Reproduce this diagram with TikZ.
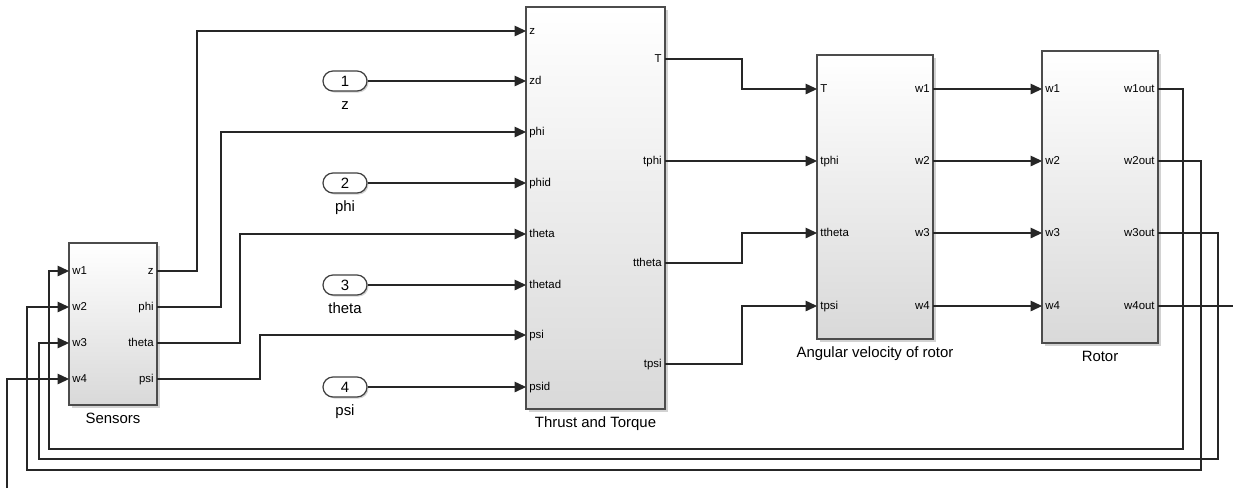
\documentclass[tikz,border=0pt]{standalone}
\usepackage{fontspec}
\setmainfont{Liberation Sans}
\usetikzlibrary{arrows.meta, positioning, calc, fit, shadows}

\begin{document}
\begin{tikzpicture}[
    x=0.02cm, y=-0.02cm,
    block/.style={draw=black!70, line width=0.7pt, inner sep=0pt,
      top color=white, bottom color=black!15,
      drop shadow={shadow xshift=0.05cm, shadow yshift=-0.05cm, fill=black!35, opacity=0.5}},
    inport/.style={draw=black!75, line width=0.7pt, fill=white, rounded corners=0.2cm,
      minimum width=0.88cm, minimum height=0.4cm, inner sep=0pt,
      font=\fontsize{8.5}{9}\selectfont,
      drop shadow={shadow xshift=0.03cm, shadow yshift=-0.03cm, fill=black!35, opacity=0.5}},
    portlbl/.style={inner sep=0pt, text height=5pt, text depth=1.5pt,
      font=\fontsize{6.5}{7}\selectfont},
    inlbl/.style={portlbl, anchor=west, xshift=0.06cm},
    outlbl/.style={portlbl, anchor=east, xshift=-0.06cm},
    blockname/.style={inner sep=0pt, text height=6.5pt, text depth=1.8pt,
      font=\fontsize{8.5}{9}\selectfont},
    sig/.style={draw=black!85, line width=0.6pt, -{Triangle[length=6.5pt, width=6pt]}},
    wire/.style={draw=black!85, line width=0.6pt}
  ]
  \path[fill=white] (0,0) rectangle (1233,488);
  \useasboundingbox (0,0) rectangle (1233,488);

  % blocks
  \node[block, fit={(69,243) (157,405)}] (sens) {};
  \node[block, fit={(526,7) (665,409)}] (tt) {};
  \node[block, fit={(817,55) (933,339)}] (av) {};
  \node[block, fit={(1042,51) (1158,343)}] (rot) {};
  \node[blockname, below=3.4pt of sens] (sens-name) {Sensors};
  \node[blockname, below=3.4pt of tt] (tt-name) {Thrust and Torque};
  \node[blockname, below=3.4pt of av] (av-name) {Angular velocity of rotor};
  \node[blockname, below=3.4pt of rot] (rot-name) {Rotor};

  % ports
  \foreach \i/\p/\q/\y in {1/w1/z/271, 2/w2/phi/307, 3/w3/theta/343, 4/w4/psi/379} {
    \coordinate (sens-i\i) at (69,\y);
    \coordinate (sens-o\i) at (157,\y);
    \node[inlbl] (sens-il\i) at (sens-i\i) {\p};
    \node[outlbl] (sens-ol\i) at (sens-o\i) {\q};
  }
  \foreach \p/\y in {z/31, zd/81, phi/132, phid/183, theta/234, thetad/285, psi/335, psid/387} {
    \coordinate (tt-\p) at (526,\y);
    \node[inlbl] (tt-l-\p) at (tt-\p) {\p};
  }
  \foreach \p/\y in {T/59, tphi/161, ttheta/263, tpsi/364} {
    \coordinate (tt-\p) at (665,\y);
    \node[outlbl] (tt-l-\p) at (tt-\p) {\p};
  }
  \foreach \i/\p/\y in {1/T/89, 2/tphi/161, 3/ttheta/233, 4/tpsi/306} {
    \coordinate (av-\p) at (817,\y);
    \coordinate (av-o\i) at (933,\y);
    \node[inlbl] (av-l-\p) at (av-\p) {\p};
    \node[outlbl] (av-ol\i) at (av-o\i) {w\i};
    \coordinate (rot-i\i) at (1042,\y);
    \coordinate (rot-o\i) at (1158,\y);
    \node[inlbl] (rot-il\i) at (rot-i\i) {w\i};
    \node[outlbl] (rot-ol\i) at (rot-o\i) {w\i out};
  }

  % inports
  \foreach \i/\y/\t/\s in {1/81/zd/z, 2/183/phid/phi, 3/285/thetad/theta, 4/387/psid/psi} {
    \node[inport] (in\i) at (345,\y) {\i};
    \node[blockname, below=3.2pt of in\i] (in\i-name) {\s};
    \draw[sig] (in\i) -- (tt-\t);
  }

  % signals
  \foreach \i/\dx/\t in {1/40/z, 2/64/phi, 3/83/theta, 4/103/psi}
    \draw[sig] (sens-o\i) -- ++(\dx,0) |- (tt-\t);
  \foreach \t in {T, tphi, ttheta, tpsi}
    \draw[sig] (tt-\t) -- ++(77,0) |- (av-\t);
  \foreach \i in {1,...,4}
    \draw[sig] (av-o\i) -- (rot-i\i);

  % feedback
  \foreach \i/\x/\y/\dx in {1/1183/449/20, 2/1201/470/42, 3/1218/459/30}
    \draw[sig] (rot-o\i) -| (\x,\y) -| ($(sens-i\i)+(-\dx,0)$) -- (sens-i\i);
  \coordinate (edgeR) at (1233,306);
  \coordinate (edgeB) at (7,488);
  \draw[wire] (rot-o4) -- (edgeR);
  \draw[sig] (edgeB) |- (sens-i4);
\end{tikzpicture}
\end{document}
